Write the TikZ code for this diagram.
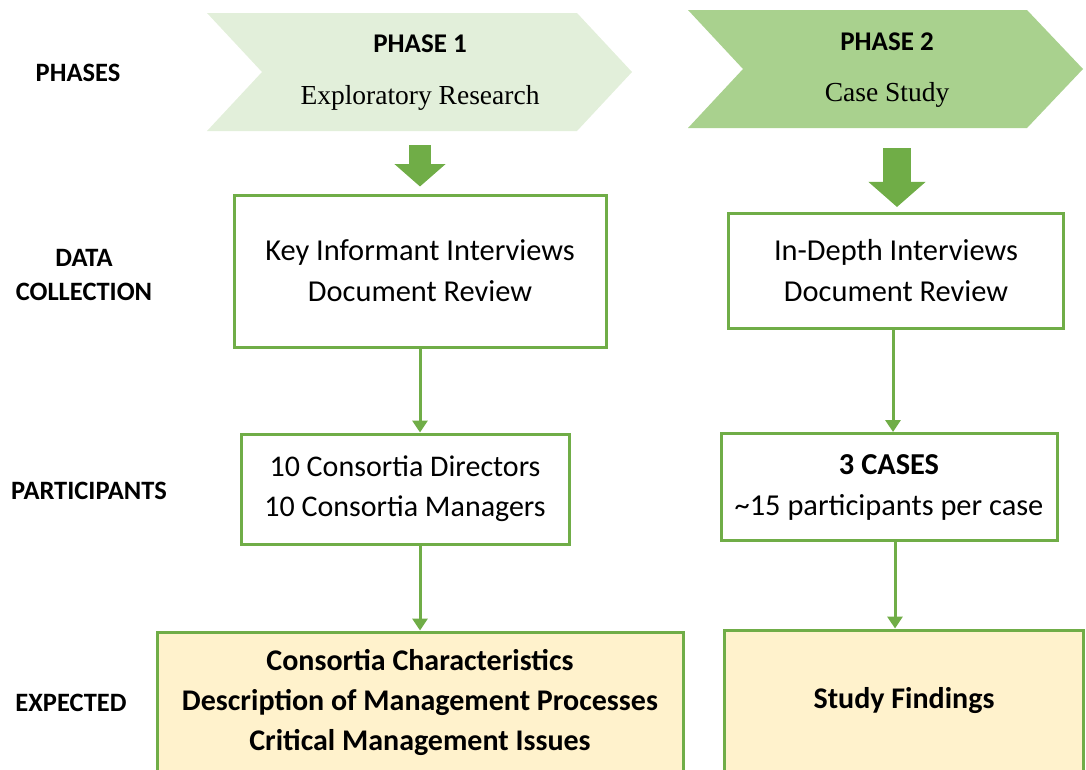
\documentclass[tikz,border=0pt]{standalone}
\usepackage{fontspec}
\setmainfont{Carlito}
\newfontfamily\timesfont{Liberation Serif}
\usetikzlibrary{arrows.meta,positioning}
\definecolor{phaseone}{HTML}{E2EFDA}
\definecolor{phasetwo}{HTML}{A9D18E}
\definecolor{boxgreen}{HTML}{70AD47}
\definecolor{resultfill}{HTML}{FFF2CC}
\tikzset{
  rowlabel/.style={font=\fontsize{26.5}{34}\selectfont\bfseries, align=center},
  phasetitle/.style={font=\fontsize{27}{30}\selectfont\bfseries},
  phasename/.style={font=\fontsize{27.5}{30}\selectfont\timesfont},
  stagebox/.style={draw=boxgreen, line width=3pt, fill=white, align=center,
    font=\fontsize{30.4}{41}\selectfont},
  resultbox/.style={stagebox, fill=resultfill, font=\fontsize{30}{40}\selectfont\bfseries},
  flow/.style={draw=boxgreen, line width=3pt, -{Triangle[width=15pt,length=12pt]}},
  bigflow/.style={draw=boxgreen, -{Triangle[width=#1,length=0.45*#1]}}
}
\begin{document}
\begin{tikzpicture}[x=1pt,y=-1pt]
  \useasboundingbox (0,0) rectangle (1086,769);
  \clip (0,0) rectangle (1086,769);
  % row labels
  \def \Rows{
    phases/78/73/PHASES,
    datacol/84/275/{DATA\\COLLECTION},
    partic/89/491/PARTICIPANTS,
    expect/71/703/EXPECTED}
  \foreach \id / \x / \y / \txt in \Rows{
    \node[rowlabel] (\id) at (\x, \y) {\txt};
  }
  % phase chevrons
  \fill[phaseone] (207,13) -- (577,13) -- (632,72) -- (577,131) -- (207,131) -- (262,72) -- cycle;
  \fill[phasetwo] (688,10) -- (1027,10) -- (1083,69) -- (1027,128) -- (688,128) -- (743,69) -- cycle;
  \node[phasetitle] (ph1) at (420,44) {PHASE 1};
  \node[phasename] (ph1name) at (420,98) {Exploratory Research};
  \node[phasetitle] (ph2) at (887,42) {PHASE 2};
  \node[phasename] (ph2name) at (887,95) {Case Study};
  % boxes
  \node[stagebox, minimum width=372pt, minimum height=152pt] (dc1) at (420,271)
    {Key Informant Interviews\\Document Review};
  \node[stagebox, minimum width=335pt, minimum height=115pt] (dc2) at (896,271)
    {In-Depth Interviews\\Document Review};
  \node[stagebox, minimum width=328pt, minimum height=110pt, font=\fontsize{30}{40}\selectfont] (p1) at (405,489)
    {10 Consortia Directors\\10 Consortia Managers};
  \node[stagebox, minimum width=336pt, minimum height=107pt] (p2) at (889,487)
    {\textbf{3 CASES}\\\textasciitilde15 participants per case};
  \node[resultbox, minimum width=526pt, minimum height=140pt] (e1) at (420,702)
    {Consortia Characteristics\\Description of Management Processes\\Critical Management Issues};
  \node[resultbox, minimum width=359pt, minimum height=142pt] (e2) at (904,701)
    {Study Findings};
  % connectors
  \coordinate (ph1b) at (420,145);
  \coordinate (ph2b) at (897,148);
  \draw[bigflow=50pt, line width=22pt, shorten >=7pt] (ph1b) -- (ph1b |- dc1.north);
  \draw[bigflow=56pt, line width=28pt, shorten >=5pt] (ph2b) -- (ph2b |- dc2.north);
  \draw[flow] (dc1.south) -- (dc1.south |- p1.north);
  \draw[flow] (dc1.south |- p1.south) -- (dc1.south |- e1.north);
  \draw[flow] (893,0 |- dc2.south) -- (893,0 |- p2.north);
  \draw[flow] (895,0 |- p2.south) -- (895,0 |- e2.north);
\end{tikzpicture}
\end{document}
